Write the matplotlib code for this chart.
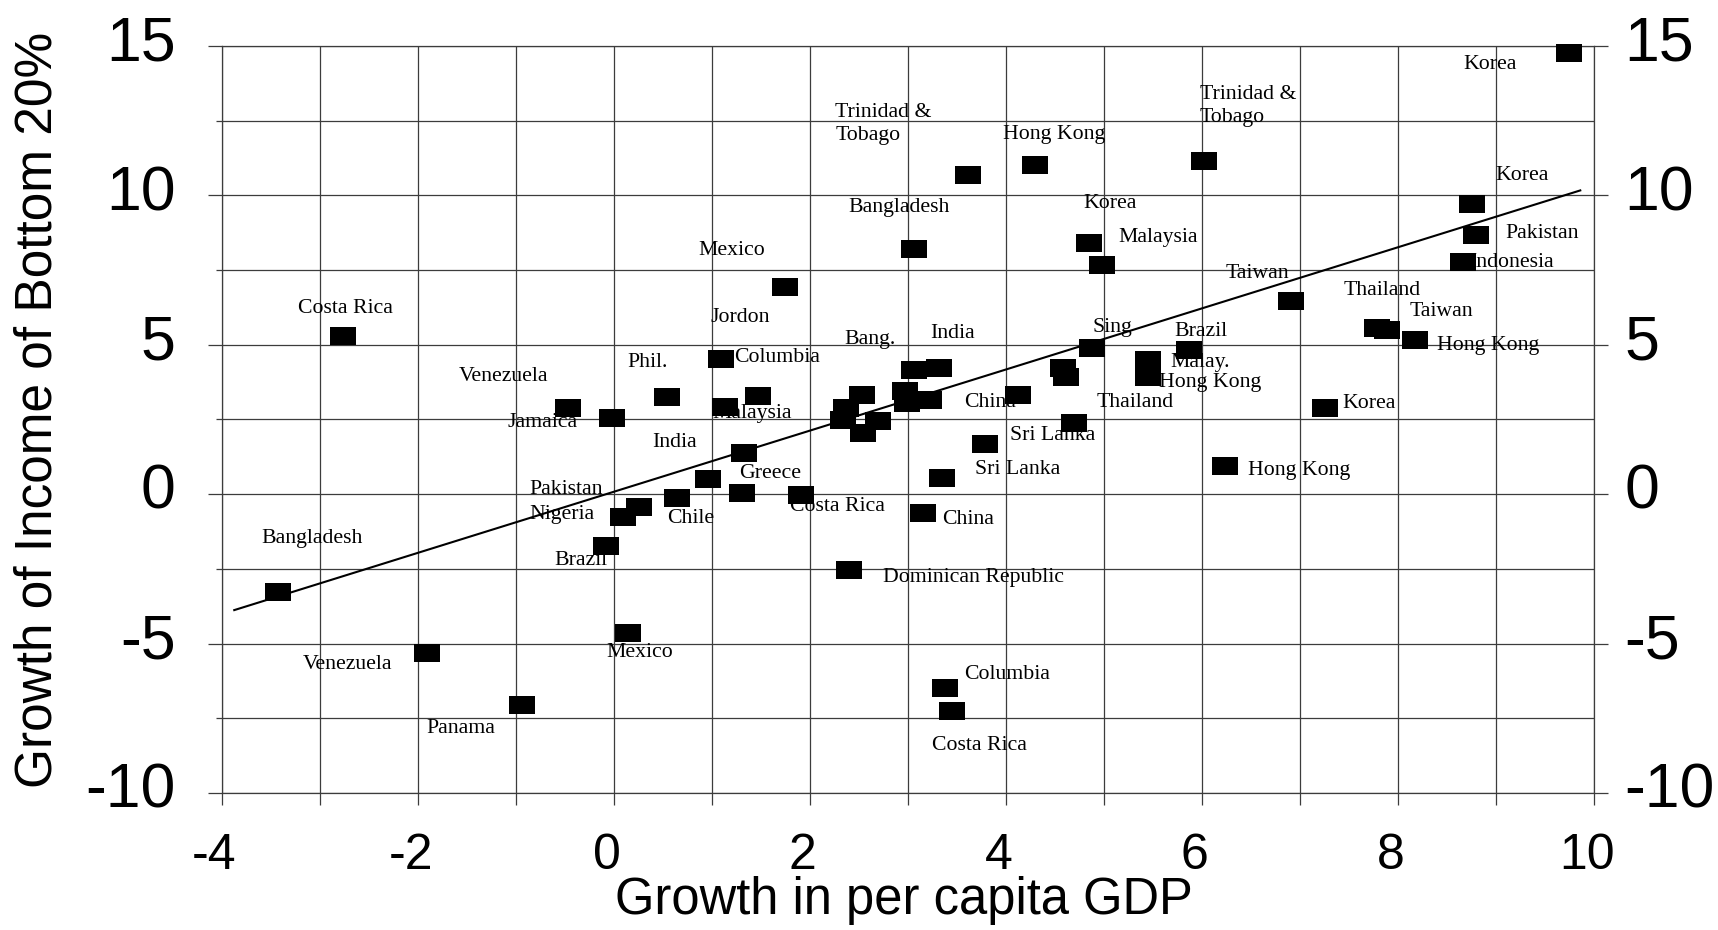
import matplotlib
matplotlib.use("Agg")
import matplotlib.pyplot as plt
from matplotlib.path import Path
from matplotlib.ticker import MultipleLocator, FixedLocator
from matplotlib.transforms import ScaledTranslation

plt.rcParams['axes.unicode_minus'] = False

# Growth in per capita GDP (x) vs growth of income of the bottom 20% (y)
gdp_growth = [
    9.74, 8.76, 8.80, 8.66, 6.02, 4.30, 3.61, 3.06, 4.85, 4.98,
    1.75, -2.76, 6.91, 7.79, 7.89, 8.17, 7.26, 6.24, 5.87, 5.45,
    5.45, 4.88, 4.58, 4.61, 4.70, 4.12, 3.79, 3.35, 3.16, 3.32,
    3.06, 2.97, 2.99, 3.22, 2.53, 2.37, 2.34, 2.54, 2.70, 1.10,
    0.54, 1.47, 1.14, -0.47, -0.02, 1.33, 0.96, 1.31, 0.65, 1.91,
    0.26, 0.10, -0.08, 2.40, 0.15, 3.38, 3.45, -1.90, -0.93, -3.42,
]
bottom20_growth = [
    14.76, 9.71, 8.68, 7.77, 11.16, 11.02, 10.69, 8.21, 8.41, 7.67,
    6.93, 5.29, 6.46, 5.56, 5.49, 5.16, 2.88, 0.94, 4.82, 4.49,
    3.92, 4.89, 4.22, 3.92, 2.38, 3.32, 1.68, 0.54, -0.64, 4.22,
    4.15, 3.45, 3.05, 3.15, 3.32, 2.88, 2.48, 2.04, 2.45, 4.52,
    3.25, 3.28, 2.91, 2.88, 2.55, 1.37, 0.50, 0.03, -0.13, -0.03,
    -0.44, -0.77, -1.74, -2.55, -4.63, -6.50, -7.24, -5.33, -7.04, -3.28,
]

# Country annotations (left edge, vertical centre, in data units)
label_text = [
    "Korea", "Trinidad &\nTobago", "Trinidad &\nTobago", "Hong Kong",
    "Bangladesh", "Korea", "Malaysia", "Korea", "Pakistan", "Indonesia",
    "Mexico", "Taiwan", "Thailand", "Taiwan", "Hong Kong", "Costa Rica",
    "Jordon", "Bang.", "India", "Sing", "Brazil", "Malay.", "Hong Kong",
    "Thailand", "China", "Sri Lanka", "Sri Lanka", "Hong Kong", "Korea",
    "Venezuela", "Phil.", "Columbia", "Jamaica", "Malaysia", "India",
    "Greece", "Pakistan", "Nigeria", "Chile", "Costa Rica", "China",
    "Bangladesh", "Brazil", "Dominican Republic", "Venezuela", "Mexico",
    "Columbia", "Panama", "Costa Rica",
]
label_x = [
    8.67, 5.98, 2.26, 3.97,
    2.39, 4.79, 5.15, 8.99, 9.10, 8.73,
    0.86, 6.24, 7.45, 8.12, 8.40, -3.22,
    0.99, 2.35, 3.23, 4.88, 5.72, 5.68, 5.56,
    4.93, 3.57, 4.04, 3.69, 6.47, 7.43,
    -1.58, 0.14, 1.23, -1.08, 1.01, 0.39,
    1.28, -0.86, -0.86, 0.55, 1.80, 3.35,
    -3.59, -0.60, 2.75, -3.17, -0.07,
    3.57, -1.91, 3.25,
]
label_y = [
    14.37, 13.00, 12.40, 12.03,
    9.61, 9.72, 8.58, 10.65, 8.74, 7.77,
    8.17, 7.40, 6.83, 6.13, 4.96, 6.23,
    5.93, 5.19, 5.39, 5.59, 5.46, 4.42, 3.75,
    3.08, 3.08, 1.98, 0.84, 0.80, 3.02,
    3.95, 4.42, 4.56, 2.41, 2.71, 1.74,
    0.70, 0.17, -0.67, -0.80, -0.40, -0.84,
    -1.47, -2.21, -2.78, -5.70, -5.29,
    -6.03, -7.84, -8.41,
]

# Fitted line as drawn on the chart
fit_slope = 1.023
fit_intercept = 0.08
fit_x_range = [-3.87, 9.86]

x_ticks = [-4, -2, 0, 2, 4, 6, 8, 10]
y_ticks = [-10, -5, 0, 5, 10, 15]

SANS = "Liberation Sans"
SERIF = "Liberation Serif"
GRID = "#3c3c3c"

fig = plt.figure(figsize=(17.18, 9.30), dpi=100)
ax = fig.add_axes([221.5 / 1718, 137 / 930, (1594 - 221.5) / 1718, (884 - 137) / 930])
ax.set_xlim(-4, 10)
ax.set_ylim(-10, 15)

ax.xaxis.set_major_locator(FixedLocator(x_ticks))
ax.xaxis.set_minor_locator(MultipleLocator(1))
ax.yaxis.set_major_locator(FixedLocator(y_ticks))
ax.yaxis.set_minor_locator(MultipleLocator(2.5))
ax.grid(which="both", color=GRID, lw=0.9)
ax.set_axisbelow(True)
for sp in ax.spines.values():
    sp.set_color(GRID)
    sp.set_linewidth(0.9)

ax.tick_params(axis="x", which="both", direction="out", length=8.5, width=0.9,
               color=GRID, pad=20, labelsize=36)
ax.tick_params(axis="y", which="major", direction="out", length=10, width=0.9,
               color=GRID, pad=23, labelsize=45)
ax.tick_params(axis="y", which="minor", direction="out", length=4.5, width=0.9,
               color=GRID)
for lbl in ax.get_xticklabels():
    lbl.set_fontfamily(SANS)
for lbl in ax.get_yticklabels():
    lbl.set_fontfamily(SANS)

# right-hand copy of the y axis
ax2 = ax.twinx()
ax2.set_ylim(-10, 15)
ax2.yaxis.set_major_locator(FixedLocator(y_ticks))
ax2.tick_params(axis="y", direction="out", length=10, width=0.9, color=GRID,
                pad=12, labelsize=45)
for sp in ax2.spines.values():
    sp.set_visible(False)
for lbl in ax2.get_yticklabels():
    lbl.set_fontfamily(SANS)

up = ScaledTranslation(0, 6 / 72, fig.dpi_scale_trans)
left = ScaledTranslation(-5 / 72, 0, fig.dpi_scale_trans)
for lbl in ax.get_yticklabels() + ax2.get_yticklabels():
    lbl.set_transform(lbl.get_transform() + up)
for lbl in ax.get_xticklabels():
    lbl.set_transform(lbl.get_transform() + left)

# fitted line
fx = fit_x_range
fy = [fit_intercept + fit_slope * v for v in fx]
ax.plot(fx, fy, color="black", lw=1.5, zorder=3)

# country labels
for t, x, y in zip(label_text, label_x, label_y):
    ax.text(x, y, t, ha="left", va="center", fontsize=15.7, family=SERIF,
            linespacing=1.3, zorder=4)

# observations as filled rectangles
rect = Path([(-1.45, -1), (1.45, -1), (1.45, 1), (-1.45, 1), (-1.45, -1)],
            [Path.MOVETO, Path.LINETO, Path.LINETO, Path.LINETO, Path.CLOSEPOLY])
ax.plot(gdp_growth, bottom20_growth, linestyle="none", marker=rect,
        markersize=19, color="black", mec="black", mew=0, zorder=5,
        clip_on=False)

fig.text(904 / 1718, 1 - 900 / 930, "Growth in per capita GDP", ha="center",
         va="center", fontsize=36.5, family=SANS)
fig.text(38 / 1718, 1 - 410 / 930, "Growth of Income of Bottom 20%",
         rotation=90, ha="center", va="center", fontsize=37, family=SANS)

fig.savefig("out.png", dpi=100)
